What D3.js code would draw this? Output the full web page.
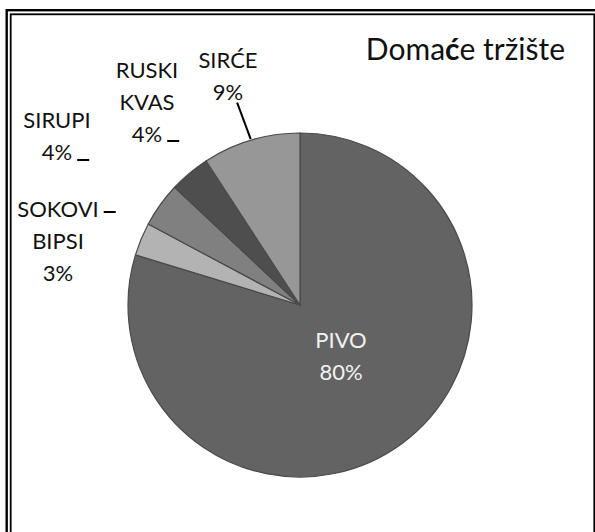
<!DOCTYPE html>
<html>
<head>
<meta charset="utf-8">
<script src="https://cdn.jsdelivr.net/npm/d3@7"></script>
<style>
  html, body { margin: 0; padding: 0; background: #fff; }
  svg text { font-family: Lato, "Open Sans", sans-serif; }
</style>
</head>
<body>
<div id="chart"></div>
<script>
// data
var categories = ["PIVO", "SOKOVI BIPSI", "SIRUPI", "RUSKI KVAS", "SIRĆE"];
var values = [79.7, 3.1, 4.2, 3.8, 9.2];
var sliceColors = ["#636363", "#b3b3b3", "#808080", "#4e4e4e", "#979797"];
var titleParts = ["Doma", "ć", "e tržište"];

var width = 595, height = 532
  , cx = 300, cy = 305, radius = 172
  , lineGap = 32
  , pct = d3.format(".0%");

// label placement (centre x, first baseline, dash / leader kind)
var labelLayout = [
  {x: 341, y: 348, fill: "#f2f2f2", dash: null},
  {x: 58,  y: 217, fill: "#111", dash: {line: 0, side: "right", dy: -5}},
  {x: 57,  y: 128, fill: "#111", dash: {line: 1, side: "right", dy: 0}},
  {x: 147, y: 78,  fill: "#111", dash: {line: 2, side: "right", dy: -1}},
  {x: 228, y: 68,  fill: "#111", dash: {leader: true}}
];

var svg = d3.select("#chart").append("svg")
    .attr("width", width)
    .attr("height", height);

// double frame
svg.append("rect")
    .attr("x", 6.7).attr("y", 10.2)
    .attr("width", 620).attr("height", 600)
    .attr("fill", "none").attr("stroke", "#000").attr("stroke-width", 2.4);
svg.append("rect")
    .attr("x", 10.7).attr("y", 14.3)
    .attr("width", 583.6).attr("height", 600)
    .attr("fill", "none").attr("stroke", "#000").attr("stroke-width", 1.8);

var pie = d3.pie().sort(null).value(function(d) { return d; });
var arcs = pie(values);
var arc = d3.arc().innerRadius(0).outerRadius(radius);

var g = svg.append("g").attr("transform", "translate(" + cx + "," + cy + ")");

g.selectAll("path.slice")
    .data(arcs)
    .enter()
    .append("path")
        .attr("class", "slice")
        .attr("d", arc)
        .attr("fill", function(d, i) { return sliceColors[i]; })
        .attr("stroke", "#4a4a4a")
        .attr("stroke-width", 1.2)
        .attr("stroke-linejoin", "round");

// labels
var total = d3.sum(values);
categories.forEach(function(name, i) {
    var lay = labelLayout[i];
    var lines = name.split(" ").concat([pct(values[i] / total)]);
    var t = svg.append("text")
        .attr("text-anchor", "middle")
        .attr("font-size", 22)
        .attr("fill", lay.fill);
    lines.forEach(function(s, k) {
        t.append("tspan").attr("x", lay.x).attr("y", lay.y + k * lineGap).text(s);
    });

    if (!lay.dash) return;
    if (lay.dash.leader) {
        var mid = (arcs[i].startAngle + arcs[i].endAngle) / 2;
        var p0 = [Math.sin(mid) * (radius + 1), -Math.cos(mid) * (radius + 1)];
        var p1 = [Math.sin(mid - 0.012) * 212, -Math.cos(mid - 0.012) * 212];
        g.append("line")
            .attr("x1", p0[0]).attr("y1", p0[1])
            .attr("x2", p1[0]).attr("y2", p1[1])
            .attr("stroke", "#000").attr("stroke-width", 2);
    } else {
        var tn = t.selectAll("tspan").nodes()[lay.dash.line];
        var bb = tn.getBBox();
        var yy = lay.y + lay.dash.line * lineGap + lay.dash.dy;
        svg.append("line")
            .attr("x1", bb.x + bb.width + 5).attr("x2", bb.x + bb.width + 17)
            .attr("y1", yy).attr("y2", yy)
            .attr("stroke", "#000").attr("stroke-width", 2);
    }
});

// title
var title = svg.append("text")
    .attr("x", 565).attr("y", 60)
    .attr("text-anchor", "end")
    .attr("font-size", 30)
    .attr("fill", "#111");
titleParts.forEach(function(s, k) {
    title.append("tspan").attr("font-weight", k === 1 ? "bold" : null).text(s);
});
</script>
</body>
</html>
